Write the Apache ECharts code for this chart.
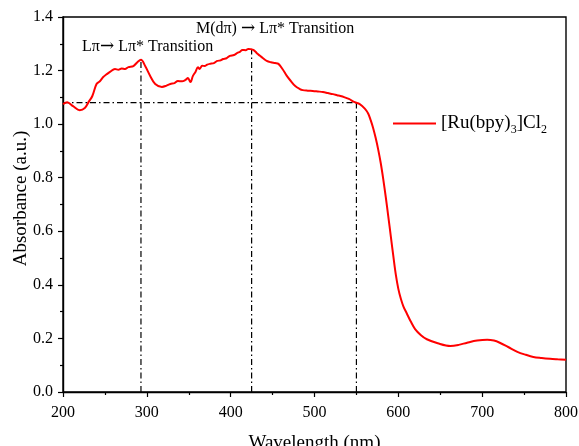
<!DOCTYPE html>
<html>
<head>
<meta charset="utf-8">
<script src="https://cdn.jsdelivr.net/npm/echarts@6/dist/echarts.min.js"></script>
<style>
  html, body { margin: 0; padding: 0; background: #fff; }
  #chart { width: 579px; height: 446px; }
</style>
</head>
<body>
<div id="chart"></div>
<script>
// UV-Vis absorption spectrum of [Ru(bpy)3]Cl2
const wavelength = [
  200, 205, 212, 220, 226, 231, 235, 240, 244, 248, 252, 256, 262, 266, 270, 274, 278, 284, 289, 293,
  298, 304, 310, 318, 323, 328, 333, 337, 342, 346, 349, 352, 355, 358, 361, 363, 366, 369, 372, 375,
  380, 384, 388, 391, 395, 399, 404, 408, 411, 414, 418, 421, 424, 427, 431, 435, 439, 443, 448, 453,
  457, 462, 467, 472, 477, 482, 486, 492, 498, 504, 510, 516, 522, 527, 531, 536, 541, 548, 554, 560,
  564, 567, 570, 573, 576, 579, 582, 585, 588, 591, 594, 597, 600, 603, 606, 610, 615, 620, 627, 634,
  647, 662, 672, 682, 694, 706, 714, 721, 731, 742, 752, 761, 771, 781, 790, 800
];
const absorbance = [
  1.075, 1.082, 1.067, 1.052, 1.060, 1.085, 1.105, 1.150, 1.160, 1.176, 1.186, 1.195, 1.206, 1.203, 1.208, 1.206, 1.213, 1.217, 1.232, 1.240,
  1.217, 1.180, 1.150, 1.139, 1.143, 1.150, 1.153, 1.161, 1.160, 1.165, 1.172, 1.157, 1.180, 1.195, 1.212, 1.206, 1.218, 1.217, 1.222, 1.225,
  1.228, 1.236, 1.238, 1.243, 1.246, 1.255, 1.258, 1.266, 1.270, 1.277, 1.276, 1.281, 1.280, 1.277, 1.266, 1.255, 1.245, 1.236, 1.231, 1.228,
  1.225, 1.205, 1.180, 1.160, 1.142, 1.132, 1.127, 1.125, 1.124, 1.122, 1.120, 1.116, 1.112, 1.108, 1.105, 1.100, 1.094, 1.082, 1.075, 1.058,
  1.040, 1.015, 0.985, 0.948, 0.905, 0.855, 0.795, 0.728, 0.656, 0.582, 0.508, 0.438, 0.385, 0.348, 0.320, 0.294, 0.262, 0.235, 0.212, 0.197,
  0.182, 0.172, 0.176, 0.184, 0.192, 0.195, 0.192, 0.184, 0.168, 0.150, 0.139, 0.131, 0.127, 0.124, 0.122, 0.120
];

// Guide lines: horizontal level and vertical markers at band maxima / edge
const guideLevel = 1.08;
const guideStart = 200;
const guideMarkers = [293, 425, 550];
const guideTops = [1.24, 1.28, 1.08];

// Band annotations (arrow set in its own rich-text style)
const bandLabels = ['L\u03c0{a|\u2192} L\u03c0* Transition', 'M(d\u03c0) {a|\u2192} L\u03c0* Transition'];
const bandLabelPos = [[301, 1.288], [453, 1.356]];

const xTicks = { min: 200, max: 800, step: 100 };
const yTicks = { min: 0, max: 1.4, step: 0.2 };

const FONT = 'Liberation Serif';
const dashDot = [6, 3, 1.5, 3];

const spectrum = wavelength.map((w, i) => [w, absorbance[i]]);

const guideSeries = [];
guideSeries.push({
  type: 'line', name: 'hguide', silent: true, symbol: 'none',
  data: [[guideStart, guideLevel], [guideMarkers[guideMarkers.length - 1], guideLevel]],
  lineStyle: { color: '#000', width: 1.2, type: dashDot }, z: 1
});
guideMarkers.forEach((m, i) => {
  guideSeries.push({
    type: 'line', name: 'vguide' + i, silent: true, symbol: 'none',
    data: [[m, 0], [m, guideTops[i]]],
    lineStyle: { color: '#000', width: 1.2, type: dashDot }, z: 1
  });
});

const chart = echarts.init(document.getElementById('chart'));
chart.setOption({
  animation: false,
  backgroundColor: '#fff',
  textStyle: { fontFamily: FONT },
  grid: {
    left: 63, right: 13, top: 17, bottom: 54,
    containLabel: false, outerBoundsMode: 'none',
    show: true, borderColor: '#000', borderWidth: 1.4, backgroundColor: 'transparent'
  },
  legend: {
    data: ['[Ru(bpy)3]Cl2'],
    left: 388, top: 109,
    itemWidth: 43, itemHeight: 14, itemGap: 6,
    icon: 'path://M0,6 L43,6 L43,8 L0,8 Z',
    formatter: () => '{m|[Ru(bpy)}{s|3}{m|]Cl}{s|2}',
    textStyle: {
      fontFamily: FONT,
      rich: {
        m: { fontFamily: FONT, fontSize: 19, color: '#000' },
        s: { fontFamily: FONT, fontSize: 12, color: '#000', verticalAlign: 'bottom', padding: [12, 0, 0, 0] }
      }
    }
  },
  xAxis: {
    type: 'value', min: xTicks.min, max: xTicks.max, interval: xTicks.step,
    name: 'Wavelength (nm)', nameLocation: 'middle', nameGap: 42, nameMoveOverlap: false,
    nameTextStyle: { fontFamily: FONT, fontSize: 19, color: '#000' },
    axisLine: { show: true, onZero: false, lineStyle: { color: '#000', width: 1.4 } },
    axisTick: { show: true, inside: false, length: 5, lineStyle: { color: '#000', width: 1.2 } },
    minorTick: { show: true, splitNumber: 2, length: 3, lineStyle: { color: '#000', width: 1.2 } },
    axisLabel: { fontFamily: FONT, fontSize: 16, color: '#000', margin: 13 },
    splitLine: { show: false }
  },
  yAxis: {
    type: 'value', min: yTicks.min, max: yTicks.max, interval: yTicks.step,
    name: 'Absorbance (a.u.)', nameLocation: 'middle', nameGap: 32, nameMoveOverlap: false,
    nameTextStyle: { fontFamily: FONT, fontSize: 19, color: '#000', padding: [0, 0, 0, 12] },
    axisLine: { show: true, onZero: false, lineStyle: { color: '#000', width: 1.4 } },
    axisTick: { show: true, inside: false, length: 5, lineStyle: { color: '#000', width: 1.2 } },
    minorTick: { show: true, splitNumber: 2, length: 3, lineStyle: { color: '#000', width: 1.2 } },
    axisLabel: { fontFamily: FONT, fontSize: 16, color: '#000', margin: 10, formatter: v => v.toFixed(1) },
    splitLine: { show: false }
  },
  series: [
    ...guideSeries,
    {
      type: 'scatter', name: 'bands', silent: true, symbolSize: 0,
      itemStyle: { opacity: 1 },
      data: bandLabelPos.map((p, i) => ({ value: p, label: { formatter: bandLabels[i] } })),
      label: {
        show: true, position: 'inside', fontFamily: FONT, fontSize: 16, color: '#000', opacity: 1,
        rich: { a: { fontFamily: 'DejaVu Serif', fontSize: 17, color: '#000' } }
      },
      z: 3
    },
    {
      type: 'line', name: '[Ru(bpy)3]Cl2', symbol: 'none', smooth: 0.35,
      data: spectrum,
      lineStyle: { color: '#ff0000', width: 2 },
      itemStyle: { color: '#ff0000' },
      z: 2
    }
  ]
});
</script>
</body>
</html>
